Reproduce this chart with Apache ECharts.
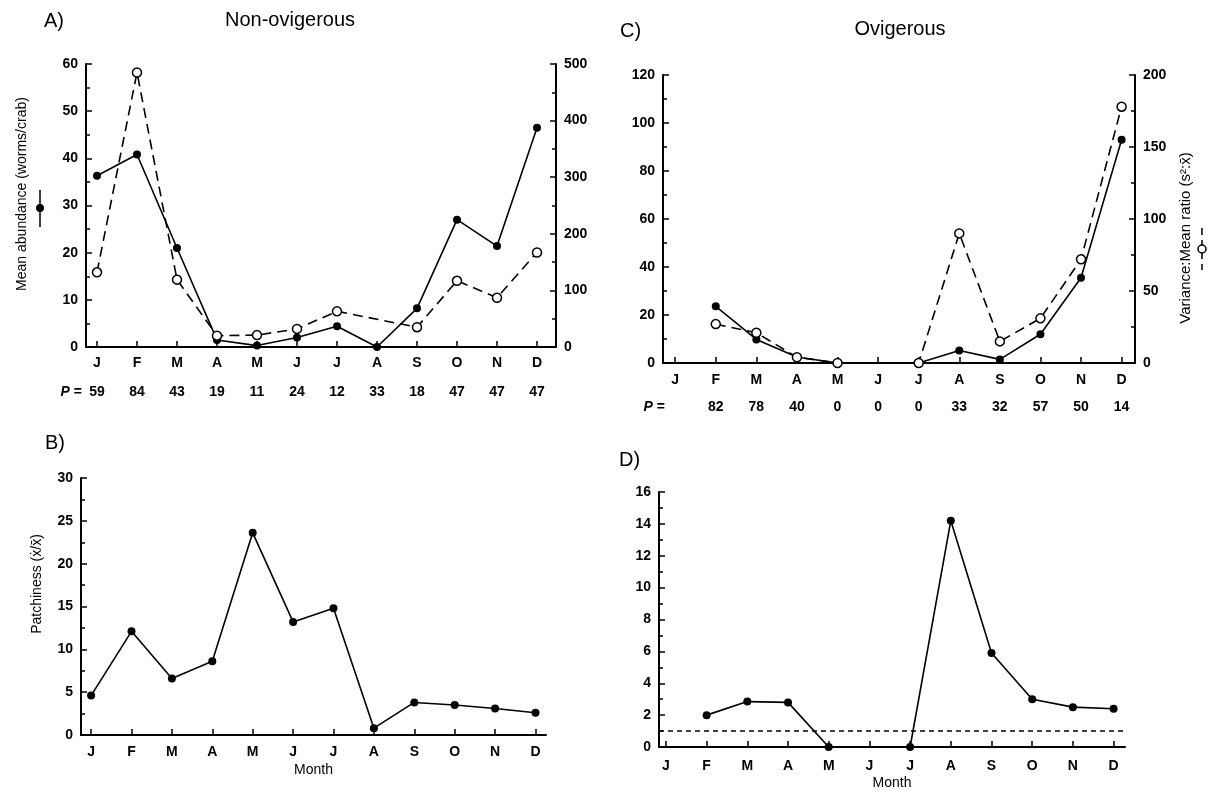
<!DOCTYPE html>
<html><head><meta charset="utf-8">
<script src="https://cdn.jsdelivr.net/npm/echarts@6/dist/echarts.min.js"></script>
<style>html,body{margin:0;padding:0;background:#fff}#c{width:1212px;height:794px}</style>
</head><body><div id="c"></div>
<script>
// ---------- data ----------
const months = ['J','F','M','A','M','J','J','A','S','O','N','D'];
const pNonOvig = [59,84,43,19,11,24,12,33,18,47,47,47];
const abundNonOvig = [36.3,40.8,21,1.5,0.3,2,4.4,0,8.2,27,21.4,46.5];
const vmrNonOvig = [132,485,119,20,21,32,63,null,35,117,87,167];
const pOvig = [null,82,78,40,0,0,0,33,32,57,50,14];
const abundOvig = [null,23.6,9.8,2.5,0,null,0,5.2,1.5,12,35.5,93];
const vmrOvig = [null,27,21,4,0,null,0,90,15,31,72,178];
const patchNonOvig = [4.6,12.1,6.6,8.6,23.6,13.2,14.8,0.8,3.8,3.5,3.1,2.6];
const patchOvig = [null,2.0,2.85,2.8,0,null,0,14.2,5.9,3.0,2.5,2.4];
const randomLevel = 1;

// ---------- helpers ----------
const idx = months.map((_, i) => i);
const toXY = arr => arr.map((v, i) => [i, v]).filter(d => d[1] !== null);
const FONT = '"Liberation Sans", Arial, Helvetica, sans-serif';
const tickText = {color:'#000', fontFamily:FONT, fontSize:14, fontWeight:'bold'};
const axLine = {color:'#000', width:2};

function monthAxis(gi, min, max, margin, name, nameGap) {
  return {
    type:'value', gridIndex:gi, min:min, max:max, position:'bottom',
    axisLine:{show:true, onZero:false, lineStyle:axLine},
    axisTick:{show:true, inside:true, length:6, customValues:idx, lineStyle:{color:'#000', width:1.5}},
    axisLabel:Object.assign({customValues:idx, margin:margin, formatter:v => months[Math.round(v)]}, tickText),
    splitLine:{show:false},
    name:name || '', nameLocation:'middle', nameGap:nameGap || 0,
    nameTextStyle:{color:'#000', fontFamily:FONT, fontSize:14}
  };
}
function pAxis(gi, min, max, offset, pArr) {
  return {
    type:'value', gridIndex:gi, min:min, max:max, position:'bottom', offset:offset,
    axisLine:{show:false}, axisTick:{show:false}, splitLine:{show:false},
    axisLabel:Object.assign({customValues:idx, margin:0, verticalAlign:'middle',
      formatter:v => { const p = pArr[Math.round(v)]; return p == null ? '' : String(p); }}, tickText)
  };
}
function valAxis(gi, max, interval, pos) {
  return {
    type:'value', gridIndex:gi, min:0, max:max, interval:interval, position:pos,
    axisLine:{show:true, onZero:false, lineStyle:axLine},
    axisTick:{show:true, inside:true, length:6, lineStyle:{color:'#000', width:1.5}},
    minorTick:{show:true, splitNumber:2, length:4, lineStyle:{color:'#000', width:1.5}},
    axisLabel:Object.assign({margin:8}, tickText),
    splitLine:{show:false}
  };
}
function solid(xi, yi, data) {
  return {type:'line', xAxisIndex:xi, yAxisIndex:yi, data:toXY(data), symbol:'circle', symbolSize:8,
    itemStyle:{color:'#000'}, lineStyle:{color:'#000', width:1.6}, z:3, animation:false};
}
function dashed(xi, yi, data) {
  return {type:'line', xAxisIndex:xi, yAxisIndex:yi, data:toXY(data), symbol:'circle', symbolSize:9,
    itemStyle:{color:'#fff', borderColor:'#000', borderWidth:1.5},
    lineStyle:{color:'#000', width:1.6, type:[10,6]}, z:4, animation:false};
}
function label(x, y, text, size, align, extra) {
  return Object.assign({type:'text', x:x, y:y, style:{text:text, fill:'#000', font:size + 'px ' + FONT,
    textAlign:align || 'left', textVerticalAlign:'middle'}}, extra || {});
}
function pLabel(x, y) {
  return {type:'text', x:x, y:y, style:{text:'{i|P} =', fill:'#000', font:'bold 14px ' + FONT,
    textAlign:'right', textVerticalAlign:'middle',
    rich:{i:{fontStyle:'italic', fontWeight:'bold', fontSize:14, fontFamily:FONT}}}};
}
const ROT = {rotation:Math.PI / 2};

const option = {
  backgroundColor:'#fff',
  animation:false,
  grid:[
    {left:86, top:64, width:470, height:283},
    {left:663, top:75, width:472, height:288},
    {left:81, top:478, width:465, height:257},
    {left:659, top:492, width:466, height:255}
  ],
  xAxis:[
    monthAxis(0, -0.275, 11.475, 9),
    pAxis(0, -0.275, 11.475, 45, pNonOvig),
    monthAxis(1, -0.3, 11.33, 10),
    pAxis(1, -0.3, 11.33, 44, pOvig),
    monthAxis(2, -0.25, 11.26, 10, 'Month', 28),
    monthAxis(3, -0.17, 11.28, 12, 'Month', 29)
  ],
  yAxis:[
    valAxis(0, 60, 10, 'left'),
    valAxis(0, 500, 100, 'right'),
    valAxis(1, 120, 20, 'left'),
    valAxis(1, 200, 50, 'right'),
    valAxis(2, 30, 5, 'left'),
    valAxis(3, 16, 2, 'left')
  ],
  series:[
    solid(0, 0, abundNonOvig),
    dashed(0, 1, vmrNonOvig),
    solid(2, 2, abundOvig),
    dashed(2, 3, vmrOvig),
    solid(4, 4, patchNonOvig),
    Object.assign(solid(5, 5, patchOvig), {
      markLine:{silent:true, symbol:'none', label:{show:false},
        lineStyle:{color:'#000', width:1.5, type:[5,4]},
        data:[{yAxis:randomLevel}]}
    })
  ],
  graphic:[
    label(44, 21, 'A)', 20),
    label(290, 20, 'Non-ovigerous', 20, 'center'),
    label(620, 31, 'C)', 20),
    label(900, 29, 'Ovigerous', 20, 'center'),
    label(45, 443, 'B)', 20),
    label(619, 460, 'D)', 20),
    pLabel(82, 392),
    pLabel(665, 407),
    label(22, 194, 'Mean abundance (worms/crab)', 14, 'center', ROT),
    label(37, 584, 'Patchiness (\u1e8b/x\u0304)', 14, 'center', ROT),
    label(1186, 238, 'Variance:Mean ratio (s\u00b2:x\u0304)', 15, 'center', ROT),
    {type:'line', shape:{x1:40, y1:190, x2:40, y2:227}, style:{stroke:'#000', lineWidth:1.5}},
    {type:'circle', shape:{cx:40, cy:208, r:4}, style:{fill:'#000'}},
    {type:'line', shape:{x1:1202, y1:228, x2:1202, y2:270}, style:{stroke:'#000', lineWidth:1.5, lineDash:[7,5]}},
    {type:'circle', shape:{cx:1202, cy:249, r:4}, style:{fill:'#fff', stroke:'#000', lineWidth:1.5}}
  ]
};
const chart = echarts.init(document.getElementById('c'), null, {renderer:'canvas'});
chart.setOption(option);
</script></body></html>
